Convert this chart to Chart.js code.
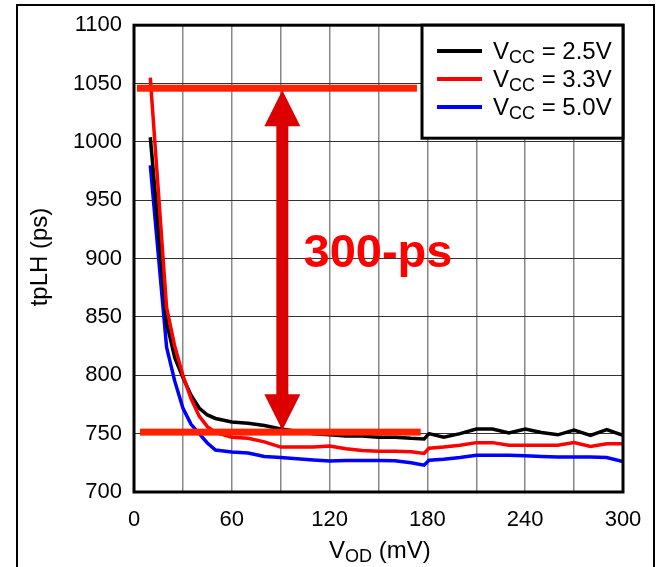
<!DOCTYPE html>
<html>
<head>
<meta charset="utf-8">
<script src="https://cdn.jsdelivr.net/npm/chart.js@4.4.1/dist/chart.umd.min.js"></script>
<style>
  html, body { margin: 0; padding: 0; background: #fff; }
  #wrap { width: 659px; height: 567px; }
</style>
</head>
<body>
<div id="wrap"><canvas id="tplh-chart"></canvas></div>
<script>
// VOD sweep (mV), shared by all three curves
const vod = [10, 20, 25, 30, 35, 40, 45, 50, 60, 70, 80, 90, 100, 110, 120, 130, 140, 150, 160, 170, 178, 181,
  190, 200, 210, 220, 230, 240, 250, 260, 270, 280, 290, 300];

// tpLH (ps) per supply
const vcc25 = [1004, 845, 815, 798, 783, 772, 766, 763, 760, 759, 757, 754, 752, 750, 749, 748, 748, 747, 747, 746, 745.5, 750,
  747, 750, 754, 754, 750.5, 754, 751, 749, 753, 748.5, 753.5, 748.5];
const vcc33 = [1055, 858, 825, 800, 780, 765, 756, 751, 747, 746, 743, 738.5, 738.5, 738.5, 739.5, 737, 735.5, 735, 735, 734.5, 733, 737.5,
  738.5, 740, 742.3, 742.3, 740, 740, 740, 740, 742.3, 739, 741.4, 741.4];
const vcc50 = [980, 824, 795, 772, 758, 750, 742, 736, 734.3, 733.4, 730.5, 729.5, 728.5, 727.5, 726.6, 727, 727, 727, 726.8, 725, 723, 727.2,
  728, 729.5, 731.5, 731.5, 731.5, 731, 730.5, 730, 730, 730, 729.5, 726];

const seriesNames = ['2.5V', '3.3V', '5.0V'];
const xTickLabels = [0, 60, 120, 180, 240, 300];
const yTickLabels = [700, 750, 800, 850, 900, 950, 1000, 1050, 1100];

// the 300-ps span marked on the plot
const spanTop = 1046;
const spanBottom = 751.3;
const spanArrowX = 91;
const spanLabel = '300-ps';

const FONT = "'Liberation Sans', Arial, Helvetica, sans-serif";

function pts(ys) {
  return vod.map((x, i) => ({ x: x, y: ys[i] }));
}

// text with a subscript part, e.g. V + CC
function subText(ctx, x, y, main, sub, rest, size, subSize) {
  ctx.font = size + 'px ' + FONT;
  ctx.fillText(main, x, y);
  let w = ctx.measureText(main).width;
  ctx.font = subSize + 'px ' + FONT;
  ctx.fillText(sub, x + w, y + 4);
  w += ctx.measureText(sub).width;
  ctx.font = size + 'px ' + FONT;
  ctx.fillText(rest, x + w, y);
}

const decorations = {
  id: 'decorations',
  beforeDraw(chart) {
    const ctx = chart.ctx;
    ctx.save();
    ctx.fillStyle = '#fff';
    ctx.fillRect(0, 0, chart.width, chart.height);
    ctx.restore();
  },
  afterDraw(chart) {
    const ctx = chart.ctx;
    const xs = chart.scales.x, ys = chart.scales.y;
    const a = chart.chartArea;
    ctx.save();

    // outer figure frame
    ctx.strokeStyle = '#000';
    ctx.lineWidth = 2;
    ctx.strokeRect(17, 5, 637, 620);

    // plot frame
    ctx.lineWidth = 3;
    ctx.strokeRect(a.left, a.top, a.right - a.left, a.bottom - a.top);

    // axis titles
    ctx.fillStyle = '#000';
    ctx.textBaseline = 'alphabetic';
    ctx.textAlign = 'left';
    subText(ctx, 329, 558, 'V', 'OD', ' (mV)', 24, 18);

    ctx.save();
    ctx.translate(47, 257);
    ctx.rotate(-Math.PI / 2);
    ctx.textAlign = 'center';
    ctx.font = '24px ' + FONT;
    ctx.fillText('tpLH (ps)', 0, 0);
    ctx.restore();

    // legend
    const lx = 422, ly = a.top, lw = a.right - 422, lh = 113;
    ctx.fillStyle = '#fff';
    ctx.fillRect(lx, ly, lw, lh);
    ctx.lineWidth = 3;
    ctx.strokeStyle = '#000';
    ctx.strokeRect(lx, ly, lw, lh);
    chart.data.datasets.forEach((ds, i) => {
      const yy = 51 + i * 28;
      ctx.strokeStyle = ds.borderColor;
      ctx.lineWidth = 4;
      ctx.beginPath();
      ctx.moveTo(437, yy);
      ctx.lineTo(482, yy);
      ctx.stroke();
      ctx.fillStyle = '#000';
      subText(ctx, 493, yy + 8, 'V', 'CC', ' = ' + seriesNames[i], 24, 18);
    });

    // span bars
    ctx.fillStyle = '#ff2200';
    const yT = ys.getPixelForValue(spanTop);
    const yB = ys.getPixelForValue(spanBottom);
    ctx.fillRect(xs.getPixelForValue(1.8), yT - 3.5, xs.getPixelForValue(173.6) - xs.getPixelForValue(1.8), 7);
    ctx.fillRect(xs.getPixelForValue(3.7), yB - 3.5, xs.getPixelForValue(175.9) - xs.getPixelForValue(3.7), 7);

    // double arrow
    const ax = xs.getPixelForValue(spanArrowX);
    const top = yT + 2, bot = yB - 2, head = 36, hw = 18, sw = 6;
    ctx.fillStyle = '#dd0000';
    ctx.beginPath();
    ctx.moveTo(ax, top);
    ctx.lineTo(ax + hw, top + head);
    ctx.lineTo(ax + sw, top + head);
    ctx.lineTo(ax + sw, bot - head);
    ctx.lineTo(ax + hw, bot - head);
    ctx.lineTo(ax, bot);
    ctx.lineTo(ax - hw, bot - head);
    ctx.lineTo(ax - sw, bot - head);
    ctx.lineTo(ax - sw, top + head);
    ctx.lineTo(ax - hw, top + head);
    ctx.closePath();
    ctx.fill();

    ctx.fillStyle = '#ff0000';
    ctx.font = 'bold 47px ' + FONT;
    ctx.textAlign = 'left';
    ctx.fillText(spanLabel, xs.getPixelForValue(104), ys.getPixelForValue(893));

    ctx.restore();
  }
};

new Chart(document.getElementById('tplh-chart'), {
  type: 'line',
  data: {
    datasets: [{
      label: seriesNames[0],
      data: pts(vcc25),
      borderColor: '#000000',
      borderWidth: 3.5,
      order: 1
    }, {
      label: seriesNames[1],
      data: pts(vcc33),
      borderColor: '#ff0000',
      borderWidth: 3.5,
      order: 0
    }, {
      label: seriesNames[2],
      data: pts(vcc50),
      borderColor: '#0000ff',
      borderWidth: 3.5,
      order: 2
    }]
  },
  options: {
    responsive: true,
    maintainAspectRatio: false,
    animation: false,
    elements: {
      point: { radius: 0 },
      line: { tension: 0, fill: false }
    },
    layout: {
      padding: { top: 22, right: 36, left: 0, bottom: 0 }
    },
    plugins: {
      legend: { display: false },
      tooltip: { enabled: false }
    },
    scales: {
      x: {
        type: 'linear',
        min: 0,
        max: 300,
        afterFit(scale) { scale.height = 75; },
        border: { display: false },
        grid: { color: '#888', lineWidth: 1.5, drawTicks: false },
        ticks: {
          stepSize: 30,
          autoSkip: false,
          maxRotation: 0,
          padding: 15,
          color: '#000',
          font: { family: FONT, size: 22 },
          callback: v => xTickLabels.includes(v) ? v : ''
        }
      },
      y: {
        min: 700,
        max: 1100,
        afterFit(scale) { scale.width = 134; },
        border: { display: false },
        grid: { color: '#333', lineWidth: 1, drawTicks: false },
        ticks: {
          stepSize: 50,
          padding: 12,
          color: '#000',
          font: { family: FONT, size: 22 },
          callback: v => yTickLabels.includes(v) ? v : ''
        }
      }
    }
  }
  ,
  plugins: [decorations]
});
</script>
</body>
</html>
